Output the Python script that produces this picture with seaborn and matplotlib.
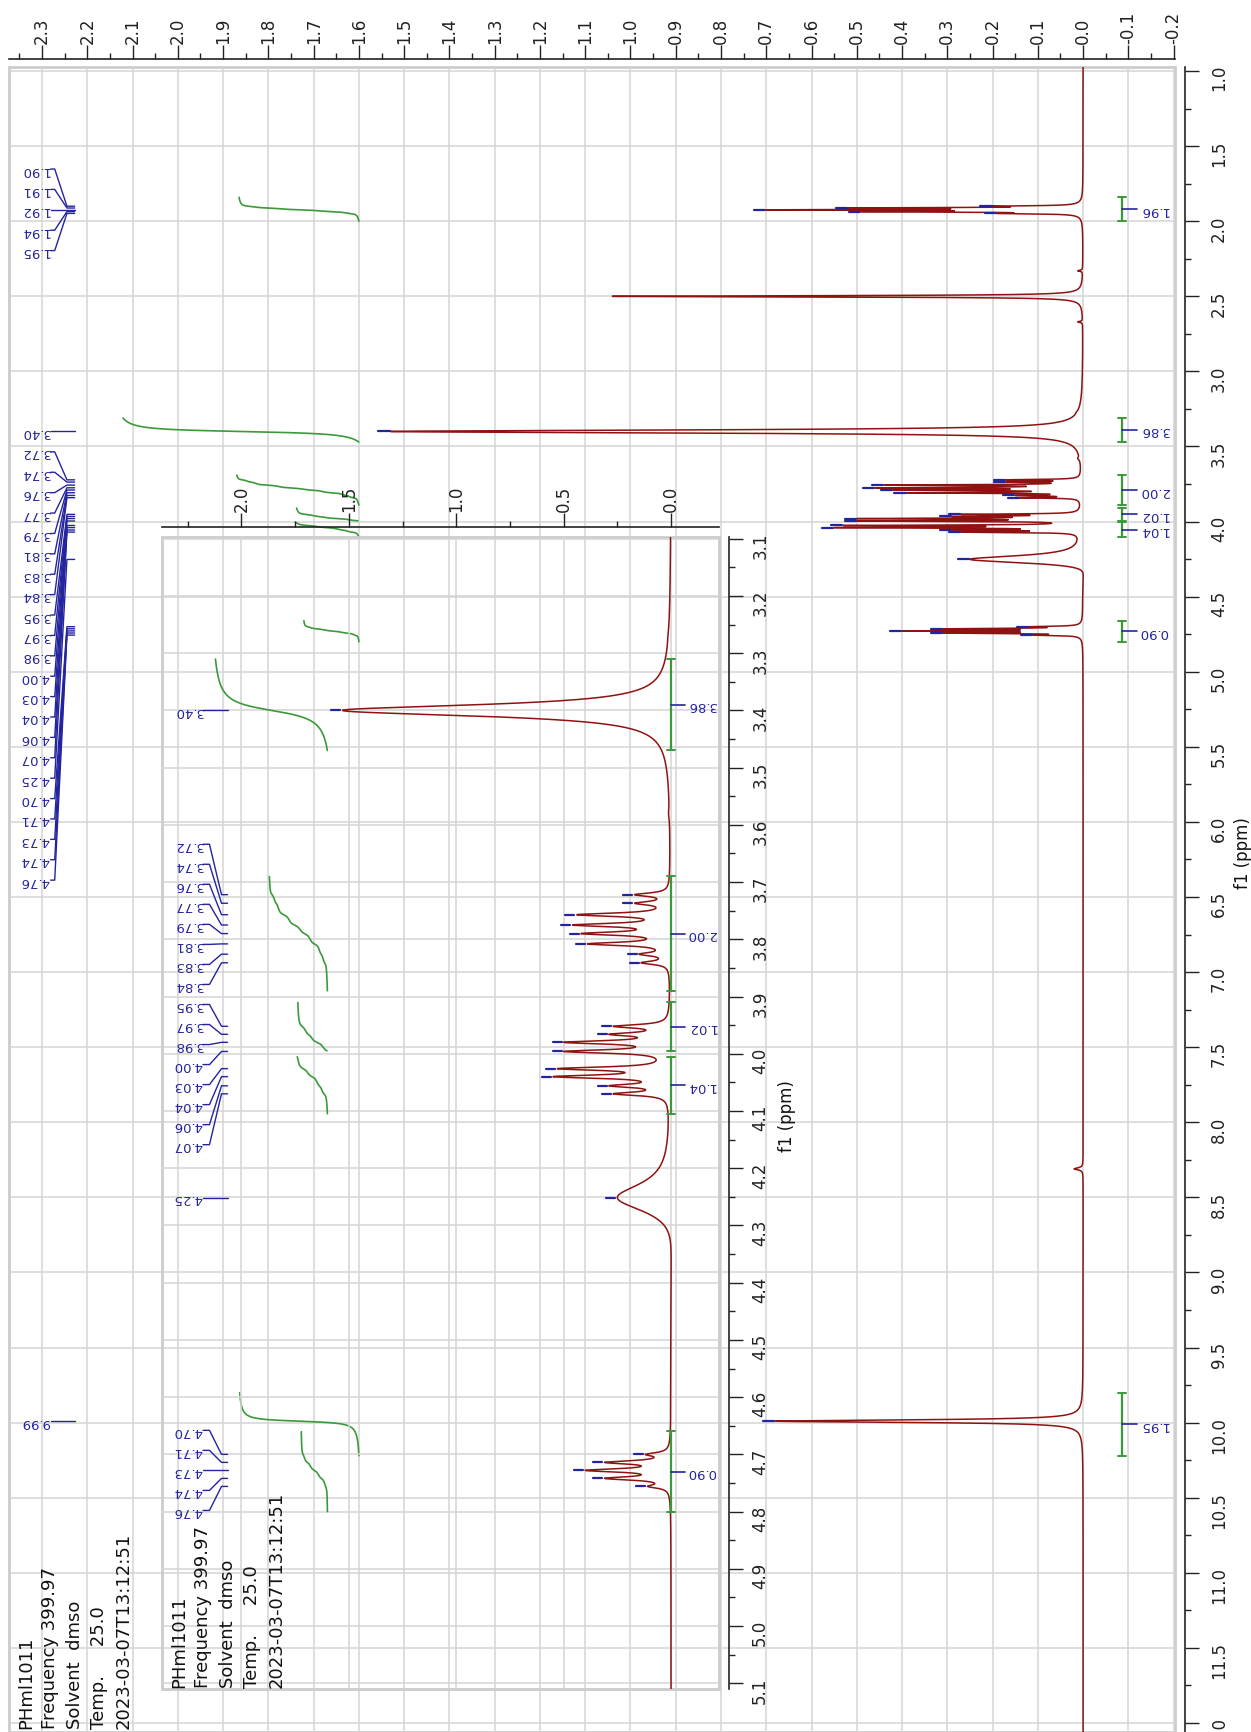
import numpy as np
import matplotlib
matplotlib.use("Agg")
import matplotlib.pyplot as plt
import seaborn as sns
from matplotlib.ticker import MultipleLocator, FormatStrFormatter
from matplotlib.patches import Rectangle

# labelled peaks (ppm) and their heights
peaks_190 = [1.900, 1.912, 1.924, 1.936, 1.948]
heights_190 = [0.20, 0.52, 0.70, 0.49, 0.19]
peaks_372 = [3.722, 3.737, 3.757, 3.775, 3.790, 3.808, 3.826, 3.841]
heights_372 = [0.17, 0.17, 0.44, 0.46, 0.42, 0.39, 0.15, 0.14]
peaks_395 = [3.952, 3.966, 3.980, 3.996, 4.026, 4.040, 4.056, 4.070]
heights_395 = [0.27, 0.29, 0.50, 0.50, 0.53, 0.55, 0.29, 0.27]
peaks_470 = [4.700, 4.714, 4.728, 4.742, 4.756]
heights_470 = [0.12, 0.31, 0.40, 0.31, 0.11]
singlets = [3.400, 4.252, 9.990]
singlet_heights = [1.53, 0.25, 0.68]
singlet_widths = [0.012, 0.030, 0.010]
water_peak = 3.400

# unlabelled signals: dmso, satellites, small bumps
other_peaks = [2.500, 2.330, 2.670, 3.270, 3.580, 4.290, 8.310]
other_heights = [1.04, 0.012, 0.012, 0.015, 0.012, 0.06, 0.02]
other_widths = [0.005, 0.004, 0.004, 0.010, 0.010, 0.060, 0.008]
multiplet_width = 0.0035

# integrals
integ_lo = [1.84, 3.31, 3.69, 3.91, 4.005, 4.66, 9.80]
integ_hi = [2.00, 3.47, 3.89, 3.995, 4.105, 4.80, 10.22]
integ_val = [1.96, 3.86, 2.00, 1.02, 1.04, 0.90, 1.95]

info_lines = ["PHml1011", "Frequency 399.97", "Solvent  dmso", "Temp.     25.0",
              "2023-03-07T13:12:51"]

RED = "#8f1212"
GREEN = "#3a9a3a"
BLUE = "#24249e"
GRID = "#d4d4d4"
INT_BASE, INT_SCALE = 1.6, 0.135

# build the spectrum from the peak list
lab_p = peaks_190 + peaks_372 + peaks_395 + peaks_470 + singlets
lab_h = heights_190 + heights_372 + heights_395 + heights_470 + singlet_heights
lab_w = [multiplet_width] * (len(lab_p) - len(singlets)) + singlet_widths
all_p = np.array(lab_p + other_peaks)
all_h = np.array(lab_h + other_heights)
all_w = np.array(lab_w + other_widths)


def lor(x, p, w):
    return 1.0 / (1.0 + ((x - p) / w) ** 2)


A = lor(all_p[:, None], all_p[None, :], all_w[None, :])
amps = np.linalg.solve(A, all_h)

ppm = np.arange(0.95, 12.2, 0.0004)
spec = (amps[None, :] * lor(ppm[:, None], all_p[None, :], all_w[None, :])).sum(axis=1)

sns.set_theme(style="white")
plt.rcParams["font.family"] = ["DejaVu Sans"]

W, H = 1251, 1733
fig = plt.figure(figsize=(W / 100, H / 100), dpi=100)


def box(left, top, right, bottom):
    return [left / W, 1 - bottom / H, (right - left) / W, (bottom - top) / H]


ax = fig.add_axes(box(9, 68, 1175, 1733))
ins = fig.add_axes(box(162, 538, 719, 1690))
ins.patch.set_alpha(0)

ax.set_xlim(2.373, -0.203)
ax.set_ylim(12.06, 0.973)
ins.set_xlim(2.37, -0.223)
ins.set_ylim(5.11, 3.097)


def style_axes(a, xmaj, xmin, ymaj, ymin, top_off, right_off, ypad):
    a.set_axisbelow(True)
    for s in ("left", "bottom"):
        a.spines[s].set_visible(False)
    a.spines["top"].set_position(("outward", top_off))
    a.spines["right"].set_position(("outward", right_off))
    for s in ("top", "right"):
        a.spines[s].set_color("#222222")
        a.spines[s].set_linewidth(1.2)
    a.add_patch(Rectangle((0, 0), 1, 1, transform=a.transAxes, fill=False,
                          ec="#cccccc", lw=2, clip_on=False, zorder=0.5))
    a.xaxis.set_ticks_position("top")
    a.yaxis.set_ticks_position("right")
    a.xaxis.set_major_locator(MultipleLocator(xmaj))
    a.xaxis.set_minor_locator(MultipleLocator(xmin))
    a.yaxis.set_major_locator(MultipleLocator(ymaj))
    a.yaxis.set_minor_locator(MultipleLocator(ymin))
    a.xaxis.set_major_formatter(FormatStrFormatter("%.1f"))
    a.yaxis.set_major_formatter(FormatStrFormatter("%.1f"))
    a.tick_params(axis="x", which="major", direction="out", length=10, width=1,
                  labelsize=12, labelrotation=90, pad=1.5, colors="#222222")
    a.tick_params(axis="y", which="major", direction="out", length=10, width=1,
                  labelsize=12, labelrotation=90, pad=ypad, colors="#222222")
    a.tick_params(which="minor", direction="out", length=4, width=1, colors="#222222")
    a.grid(True, which="major", color=GRID, lw=1.1)
    a.set_xlabel("")
    a.set_ylabel("")


style_axes(ax, 0.1, 0.05, 0.5, 0.25, 5.8, 7.2, 8)
style_axes(ins, 0.5, 0.25, 0.1, 0.05, 7.2, 7.2, 6)

# spectrum
sns.lineplot(x=spec, y=ppm, orient="y", sort=False, estimator=None, color=RED, lw=1.1, ax=ax)
m = (ppm > 3.0) & (ppm < 5.2)
sns.lineplot(x=spec[m], y=ppm[m], orient="y", sort=False, estimator=None, color=RED, lw=1.1, ax=ins)

# integral curves and brackets
for a, bx, cap, tick_end, lab_x in ((ax, -0.086, 0.009, -0.12, -0.124),
                                     (ins, 0.0, 0.018, -0.065, -0.072)):
    for lo, hi, val in zip(integ_lo, integ_hi, integ_val):
        mm = (ppm >= lo) & (ppm <= hi)
        cum = np.cumsum(spec[mm][::-1])[::-1]
        sns.lineplot(x=INT_BASE + INT_SCALE * val * cum / cum[0], y=ppm[mm], orient="y",
                     sort=False, estimator=None, color=GREEN, lw=1.2, ax=a)
        if a is ins and not (3.097 < lo < 5.11):
            continue
        mid = (lo + hi) / 2
        a.plot([bx, bx], [lo, hi], color=GREEN, lw=1.6)
        a.plot([bx - cap, bx + cap], [lo, lo], color=GREEN, lw=1.4)
        a.plot([bx - cap, bx + cap], [hi, hi], color=GREEN, lw=1.4)
        a.plot([bx, tick_end], [mid, mid], color=BLUE, lw=1.2)
        a.text(lab_x, mid, f"{val:.2f}", rotation=180, rotation_mode="anchor",
               ha="right", va="center", fontsize=9.5, color=BLUE, clip_on=False)


def spread(nat, sp, fixed):
    free = [p for p in nat if p != fixed]
    blocks = [[p] for p in free]

    def place(b):
        c = np.mean(b)
        return [c + (k - (len(b) - 1) / 2) * sp for k in range(len(b))]

    merged = True
    while merged:
        merged = False
        for k in range(len(blocks) - 1):
            if place(blocks[k])[-1] + sp > place(blocks[k + 1])[0] + 1e-9:
                blocks[k] += blocks.pop(k + 1)
                merged = True
                break
    pos = {fixed: fixed}
    for b in blocks:
        pos.update(zip(b, place(b)))
    out, prev = [], -np.inf
    for p in nat:
        y = max(pos[p], prev + sp)
        out.append(y)
        prev = y
    return out


def peak_labels(a, lo, hi, sp, tx, stub, diag, end, gap, dlen):
    sel = sorted(p for p in lab_p if lo < p < hi)
    heights = dict(zip(lab_p, lab_h))
    ys = spread(sel, sp, water_peak)
    for p, y in zip(sel, ys):
        h = heights[p]
        a.plot([h + gap, h + gap + dlen], [p, p], color=BLUE, lw=1.6)
        a.plot([tx - 0.002, stub, diag, end], [y, y, p, p], color=BLUE, lw=1.0)
        a.text(tx, y, f"{p:.2f}", rotation=180, rotation_mode="anchor",
               ha="left", va="center", fontsize=9.5, color=BLUE)


peak_labels(ax, 0.973, 12.06, 0.1358, 2.283, 2.272, 2.245, 2.228, 0.002, 0.025)
peak_labels(ins, 3.097, 5.11, 0.035, 2.181, 2.149, 2.093, 2.065, 0.01, 0.042)

# acquisition info, one text per line so each line keeps its own box
for x0, y0 in ((31, 1729), (184, 1688)):
    for i, line in enumerate(info_lines):
        fig.text((x0 + 24.3 * i) / W, 1 - y0 / H, line, rotation=90,
                 rotation_mode="anchor", ha="left", va="baseline",
                 fontsize=13, color="#111111")

fig.text(1243 / W, 1 - 853 / H, "f1 (ppm)", rotation=90, ha="center", va="center",
         fontsize=12, color="#111111")
fig.text(787 / W, 1 - 1116 / H, "f1 (ppm)", rotation=90, ha="center", va="center",
         fontsize=12, color="#111111")

fig.savefig("out.png", dpi=100)
